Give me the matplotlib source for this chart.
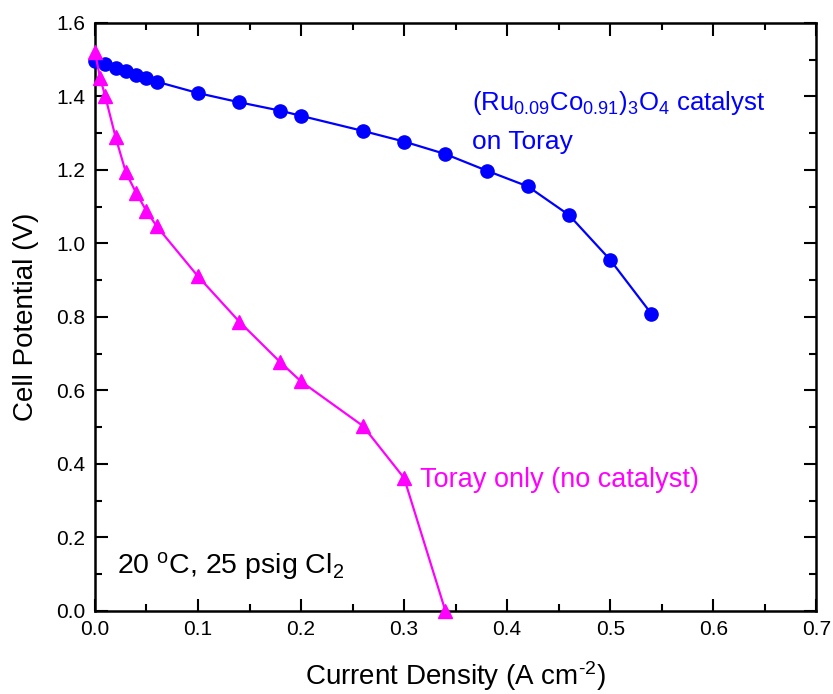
import numpy as np
import matplotlib
matplotlib.use("Agg")
import matplotlib.pyplot as plt
from matplotlib.ticker import MultipleLocator

plt.rcParams['font.family'] = ['Liberation Sans', 'DejaVu Sans']
plt.rcParams['mathtext.default'] = 'regular'

# catalyst on Toray (blue circles)
cat_x = [0.0, 0.01, 0.02, 0.03, 0.04, 0.05, 0.06, 0.10, 0.14, 0.18, 0.20,
         0.26, 0.30, 0.34, 0.38, 0.42, 0.46, 0.50, 0.54]
cat_y = [1.495, 1.487, 1.477, 1.468, 1.459, 1.449, 1.440, 1.409, 1.384, 1.361, 1.347,
         1.306, 1.277, 1.243, 1.198, 1.155, 1.077, 0.955, 0.808]

# Toray only (magenta triangles)
tor_x = [0.0, 0.005, 0.01, 0.02, 0.03, 0.04, 0.05, 0.06, 0.10, 0.14, 0.18,
         0.20, 0.26, 0.30, 0.34]
tor_y = [1.52, 1.45, 1.40, 1.289, 1.193, 1.137, 1.088, 1.046, 0.91, 0.787, 0.676,
         0.624, 0.503, 0.361, 0.0]

fig = plt.figure(figsize=(8.33, 6.94), dpi=100)
ax = fig.add_axes([0.114, 0.12, 0.866, 0.847])

ax.plot(cat_x, cat_y, color='#0000ff', lw=1.6, marker='o', ms=9.5, clip_on=False, zorder=3)
ax.plot(tor_x, tor_y, color='#ff00ff', lw=1.6, marker='^', ms=10, clip_on=False, zorder=3)

ax.set_xlim(0, 0.7)
ax.set_ylim(0, 1.6)
ax.xaxis.set_major_locator(MultipleLocator(0.1))
ax.xaxis.set_minor_locator(MultipleLocator(0.05))
ax.yaxis.set_major_locator(MultipleLocator(0.2))
ax.yaxis.set_minor_locator(MultipleLocator(0.1))
ax.xaxis.set_major_formatter(plt.FuncFormatter(lambda v, p: f"{v:.1f}"))
ax.yaxis.set_major_formatter(plt.FuncFormatter(lambda v, p: f"{v:.1f}"))

ax.tick_params(which='both', direction='in', top=True, right=True, width=1.5,
               labelsize=15)
ax.tick_params(which='major', length=9, pad=7)
ax.tick_params(which='minor', length=5)
for s in ax.spines.values():
    s.set_linewidth(1.8)

ax.set_xlabel('Current Density (A cm$^{\u20102}$)', fontsize=20, labelpad=14)
ax.set_ylabel('Cell Potential (V)', fontsize=20, labelpad=12)

ax.text(0.366, 1.363, '(Ru$_{0.09}$Co$_{0.91}$)$_3$O$_4$ catalyst', color='#0000ff',
        fontsize=18.5, va='baseline')
ax.text(0.366, 1.257, 'on Toray', color='#0000ff', fontsize=19, va='baseline')
ax.text(0.3155, 0.357, 'Toray only (no catalyst)', color='#ff00ff', fontsize=19.5, va='center')
ax.text(0.0215, 0.10, '20 $^{o}$C, 25 psig Cl$_2$', color='black', fontsize=20.5, va='baseline')

fig.savefig('out.png', dpi=100)
